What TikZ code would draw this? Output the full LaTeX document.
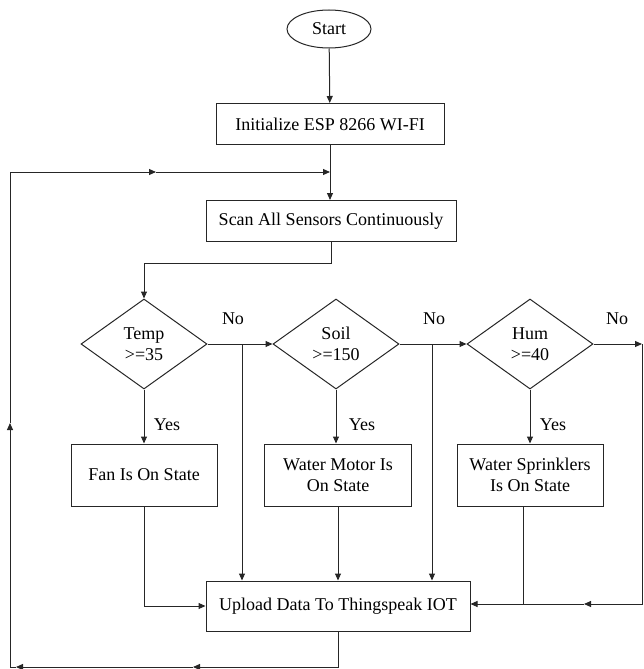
\documentclass[tikz,border=0pt]{standalone}
\usepackage{fontspec}
\setmainfont{Liberation Serif}
\newfontfamily\tnr{Liberation Serif}
\usetikzlibrary{shapes.geometric,arrows.meta}
\begin{document}
\begin{tikzpicture}[x=1pt,y=-1pt,
  line width=1pt, draw=black!85,
  txt/.style={font=\tnr\fontsize{18}{21}\selectfont},
  box/.style={draw=black!85, rectangle, inner sep=0pt, align=center, txt},
  dec/.style={draw=black!85, diamond, inner sep=0pt, align=center, minimum width=126pt, minimum height=90pt, txt},
  lbl/.style={inner sep=0pt, txt},
  arr/.style={-{Triangle[length=7pt,width=6pt]}}
]
\useasboundingbox (0,0) rectangle (643,669);

% nodes
\node[box, ellipse, minimum width=84pt, minimum height=38pt] (start) at (329,29) {Start};
\node[box, minimum width=228pt, minimum height=41pt] (init) at (330,124) {Initialize ESP 8266 WI-FI};
\node[box, minimum width=250pt, minimum height=41pt] (scan) at (331,221) {Scan All Sensors Continuously};
\node[dec] (temp) at (144,344) {Temp\\>=35};
\node[dec] (soil) at (336,344) {Soil\\>=150};
\node[dec] (hum) at (530,344) {Hum\\>=40};
\node[box, minimum width=146pt, minimum height=62pt] (fan) at (144,475) {Fan Is On State};
\node[box, minimum width=147pt, minimum height=62pt] (motor) at (338,475) {Water Motor Is\\On State};
\node[box, minimum width=146pt, minimum height=62pt] (spr) at (530,475) {Water Sprinklers\\Is On State};
\node[box, minimum width=264pt, minimum height=50pt] (upload) at (338,606) {Upload Data To Thingspeak IOT};

\node[lbl] (no1) at (233,319) {No};
\node[lbl] (no2) at (434,319) {No};
\node[lbl] (no3) at (617,319) {No};
\node[lbl] (yes1) at (167,425) {Yes};
\node[lbl] (yes2) at (362,425) {Yes};
\node[lbl] (yes3) at (553,425) {Yes};

% coordinates
\coordinate (j1) at (330,172);
\coordinate (l1) at (156,172);
\coordinate (lt) at (10,172);
\coordinate (lu) at (10,423);
\coordinate (lb) at (10,667);
\coordinate (lb2) at (16,667);
\coordinate (mb) at (193,667);
\coordinate (s1) at (331,263);
\coordinate (s2) at (144,263);
\coordinate (t1) at (242,344);
\coordinate (t2) at (432,344);
\coordinate (r1) at (642,344);
\coordinate (r2) at (642,604);
\coordinate (r3) at (584,604);
\coordinate (sp) at (523,604);

% connectors
\draw[arr] (start) -- (init);
\draw (init.south) -- (j1);
\draw[arr] (j1) -- (j1 |- scan.north);
\draw[arr] (upload.south) -- (upload.south |- mb) -- (mb);
\draw[arr] (mb) -- (lb2);
\draw[arr] (lb2) -- (lb) -- (lu);
\draw[arr] (lu) -- (lt) -- (l1);
\draw[arr] (l1) -- (j1);

\draw[arr] (scan.south) -- (s1) -- (s2) -- (temp.north);
\draw[arr] (temp.east) -- (soil.west);
\draw[arr] (soil.east) -- (hum.west);
\draw[arr] (hum.east) -- (r1);
\draw[arr] (r1) -- (r2) -- (r3);
\draw[arr] (r3) -- (upload.east |- r3);

\draw[arr] (t1) -- (t1 |- upload.north);
\draw[arr] (t2) -- (t2 |- upload.north);

\draw[arr] (temp.south) -- (fan.north);
\draw[arr] (soil.south) -- (soil.south |- motor.north);
\draw[arr] (hum.south) -- (spr.north);

\draw[arr] (fan.south) -- (fan.south |- upload.west) -- (upload.west);
\draw[arr] (motor.south) -- (motor.south |- upload.north);
\draw (spr.south -| sp) -- (sp);
\end{tikzpicture}
\end{document}
